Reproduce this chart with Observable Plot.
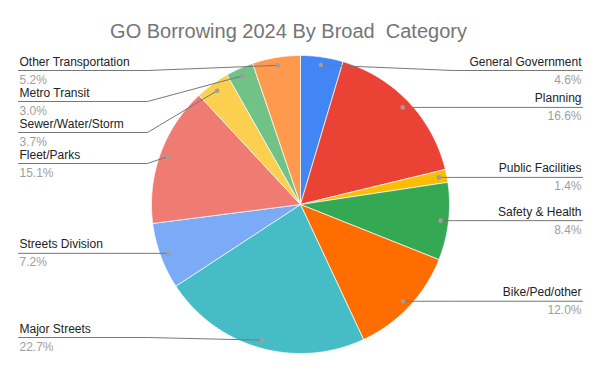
<!DOCTYPE html>
<html>
<head>
<meta charset="utf-8">
<script src="https://cdn.jsdelivr.net/npm/d3@7"></script>
<script src="https://cdn.jsdelivr.net/npm/@observablehq/plot@0.6"></script>
<style>
  html, body { margin: 0; padding: 0; background: #fff; }
  svg text { white-space: pre; }
</style>
</head>
<body>
<div id="chart"></div>
<script>
const title = "GO Borrowing 2024 By Broad  Category";
const categories = ["General Government", "Planning", "Public Facilities", "Safety & Health", "Bike/Ped/other", "Major Streets", "Streets Division", "Fleet/Parks", "Sewer/Water/Storm", "Metro Transit", "Other Transportation"];
const values = [4.6, 16.6, 1.4, 8.4, 12.0, 22.7, 7.2, 15.1, 3.7, 3.0, 5.2];
const colors = ["#4285F4", "#EA4335", "#FBBC04", "#34A853", "#FF6D01", "#46BDC6", "#7BAAF7", "#F07B72", "#FCD04F", "#71C287", "#FF994D"];

// layout
const W = 600, H = 371;
const cx = 300, cy = 204, R = 149, dotR = 141;
const leftX = 19, rightX = 581, elbowL = 147, elbowR = 453;
const gap = 31, minY = 70, maxY = 337;

const arcs = d3.pie().sort(null).value(d => d)(values);
const pt = (a, r) => [cx + r * Math.sin(a), cy - r * Math.cos(a)];

const slicePts = [];
arcs.forEach((a, i) => {
  const name = categories[i];
  slicePts.push({name, color: colors[i], x: cx, y: cy});
  const n = Math.max(2, Math.ceil((a.endAngle - a.startAngle) / 0.01));
  for (let k = 0; k <= n; k++) {
    const ang = a.startAngle + (a.endAngle - a.startAngle) * k / n;
    const [x, y] = pt(ang, R);
    slicePts.push({name, color: colors[i], x, y});
  }
  slicePts.push({name, color: colors[i], x: cx, y: cy});
});

const labels = arcs.map((a, i) => {
  const mid = (a.startAngle + a.endAngle) / 2;
  const [dx, dy] = pt(mid, dotR);
  return {name: categories[i], pct: values[i].toFixed(1) + "%", dx, dy, side: mid < Math.PI ? "right" : "left"};
});
for (const side of ["left", "right"]) {
  const group = labels.filter(l => l.side === side).sort((a, b) => a.dy - b.dy);
  let prev = -Infinity;
  for (const l of group) {
    l.ly = Math.min(maxY, Math.max(l.dy, minY, prev + gap));
    prev = l.ly;
  }
}
const leaderPts = labels.flatMap(l => {
  const lx = l.side === "left" ? leftX - 1 : rightX + 1;
  const ex = l.side === "left" ? elbowL : elbowR;
  return [
    {name: l.name, x: lx, y: l.ly},
    {name: l.name, x: ex, y: l.ly},
    {name: l.name, x: l.dx, y: l.dy}
  ];
});
const leftLabels = labels.filter(l => l.side === "left");
const rightLabels = labels.filter(l => l.side === "right");

const textMarks = [[leftLabels, leftX, "start"], [rightLabels, rightX, "end"]].flatMap(([data, x, anchor]) => [
  Plot.text(data, {x: () => x, y: l => l.ly - 5, text: "name", textAnchor: anchor, lineAnchor: "bottom", fontSize: 12, fill: "#222"}),
  Plot.text(data, {x: () => x, y: l => l.ly + 13, text: "pct", textAnchor: anchor, lineAnchor: "bottom", fontSize: 12, fill: "#9e9e9e"})
]);

const chart = Plot.plot({
  width: W,
  height: H,
  margin: 0,
  x: {type: "identity", axis: null},
  y: {type: "identity", axis: null},
  color: {type: "identity"},
  style: {fontFamily: "'Liberation Sans', Arial, sans-serif", background: "#fff"},
  marks: [
    Plot.line(slicePts, {x: "x", y: "y", z: "name", fill: "color", stroke: "#fff", strokeWidth: 0.7, curve: "linear"}),
    Plot.line(leaderPts, {x: "x", y: "y", z: "name", stroke: "#777", strokeWidth: 1, curve: "linear"}),
    Plot.dot(labels, {x: "dx", y: "dy", r: 2.3, fill: "#9e9e9e", stroke: null}),
    ...textMarks,
    Plot.text([title], {x: () => 288, y: () => 37, text: d => d, textAnchor: "middle", lineAnchor: "bottom", fontSize: 20, fill: "#757575"})
  ]
});
document.getElementById("chart").appendChild(chart);
</script>
</body>
</html>
